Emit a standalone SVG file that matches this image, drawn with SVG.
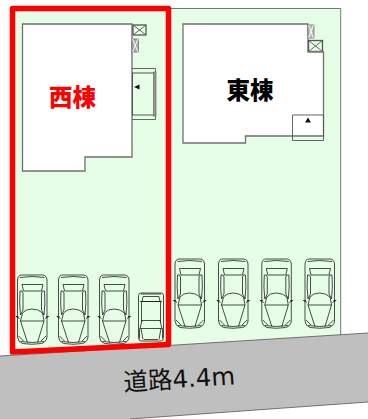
<svg xmlns="http://www.w3.org/2000/svg" width="368" height="419" viewBox="0 0 368 419">
<style>
.b{fill:#fff;stroke:#707070;stroke-width:1.300}
.l{fill:none;stroke:#555;stroke-width:.9}
.g{fill:#999;stroke:#666;stroke-width:.7}
.c{fill:none;stroke:#111;stroke-width:.75}
.t{font-family:"Noto Sans CJK JP","Noto Sans",sans-serif;font-weight:900;font-size:23.500px;text-anchor:middle}
</style>
<defs>
<g id="car">
<path class="c" d="M5 0H26Q30 0 30.500 5V62Q30 67 25 68.500Q15.500 70 6 68.500Q1.500 67 1 62V5Q1.500 0 5 0Z"/>
<path class="c" d="M3.500 2.500Q15.500 .5 28 2.500M4 66.500Q15.500 68.500 27.500 66.500"/>
<path class="c" d="M5.500 9.500H26.500L25 16H7Z"/>
<path class="c" d="M3.500 16Q6 15 6.500 18V35L4 40Q2.500 28 3.500 16ZM28 16Q25.500 15 25 18V35L27.500 40Q29 28 28 16Z"/>
<path class="c" d="M6 38Q9 34 15.500 34Q22 34 26 38L27.500 46H4ZM4 46L11 67.500M27.500 46L21 67.500"/>
<path class="c" d="M-.5 41.500L3 43.500M32 41.500L28.500 43.500M-.8 41.500H2M32.300 41.500H29.500"/>
<path class="c" d="M2 61L7 66M29.500 61L24.500 66"/>
</g>
<g id="smallcar">
<path class="c" d="M3 .5H23Q25.500 .5 25.500 3V45Q25.500 48.500 23 48.500H3Q.5 48.500 .5 45V3Q.5 .5 3 .5Z"/>
<path class="c" d="M3 1.500H23M5 4H21L22 9H4ZM2 9H24M3.500 9V30M22.500 9V30"/>
<path class="c" d="M4 28H22L24 36H2ZM3 36L5 47M23 36L21 47M6 47H20M1.500 36V46M24.500 36V46"/>
</g>
</defs>
<g id="site"><polygon points="12.500,8.500 340.700,8.500 340.700,336 12.500,356" fill="#e6fde6" stroke="none"/>
<path d="M170 8.500H340.700V335" fill="none" stroke="#777" stroke-width="1"/></g>
<g id="road"><polygon points="0,356 368,333 368,402 130,419 0,419" fill="#bfbfbf"/>
<path d="M0 356L368 333M368 402L130 419" fill="none" stroke="#444" stroke-width=".7"/>
<text transform="translate(124,391) rotate(-3.500)" font-family="'DejaVu Sans','Noto Sans CJK JP',sans-serif" font-size="24.500" fill="#111"><tspan font-family="'Noto Sans CJK JP',sans-serif">道路</tspan>4.4m</text></g>
<g id="west-building">
<polygon class="b" points="22.500,24 132,24 132,157 85,157 85,171 22.500,171"/>
<rect class="b" x="133" y="25" width="13" height="10" style="fill:none;stroke:#555"/><path class="l" d="M133 25L146 35M146 25L133 35"/>
<rect x="132" y="39" width="6.500" height="13" fill="#aaa" stroke="#666" stroke-width=".7"/><path d="M132.500 39L138 52M138 39L132.500 52" stroke="#fff" stroke-width=".9"/>
<path class="l" d="M132 68.500H155.500V119.500H132"/>
<rect x="132.500" y="73" width="22" height="42" fill="#e6fde6" stroke="#444" stroke-width=".9"/>
<rect class="g" x="153.500" y="72" width="2.500" height="44"/>
<polygon points="134,87 139.500,84.500 139.500,89.500" fill="#111"/>
<text class="t" x="72.500" y="106" fill="#f00">西棟</text>
</g>
<g id="east-building">
<polygon class="b" points="183,24 308,24 308,52 323.500,52 323.500,136 245.500,136 245.500,143 183,143"/>
<rect class="g" x="308" y="25" width="6" height="13" style="fill:#bbb"/><path d="M308.500 25L313.500 38M313.500 25L308.500 38" stroke="#fff" stroke-width=".9"/>
<rect class="b" x="308.500" y="40.500" width="14" height="11" style="fill:none;stroke:#555"/><path class="l" d="M308.500 40.500L322.500 51.500M322.500 40.500L308.500 51.500"/>
<path d="M308 52.300H323" stroke="#999" stroke-width="1.500"/>
<path class="l" d="M292.500 136V115H323.500V140.500H292.500V136"/>
<polygon points="305,122.500 308,117.500 311,122.500" fill="#111"/>
<text class="t" x="250" y="99" fill="#000">東棟</text>
</g>
<g id="cars-west">
<use href="#car" x="16.500" y="275"/><use href="#car" x="57.500" y="275"/><use href="#car" x="98.500" y="275"/><use href="#smallcar" x="138" y="292.500"/>
</g>
<g id="cars-east">
<use href="#car" x="174" y="259"/><use href="#car" x="217.500" y="259"/><use href="#car" x="260.800" y="259"/><use href="#car" x="304" y="259"/>
</g>
<g id="west-outline"><polygon points="12.500,8.500 168.500,8.500 168.500,344.500 12.500,352" fill="none" stroke="#f00" stroke-width="5.500" stroke-linejoin="round"/></g>
</svg>
